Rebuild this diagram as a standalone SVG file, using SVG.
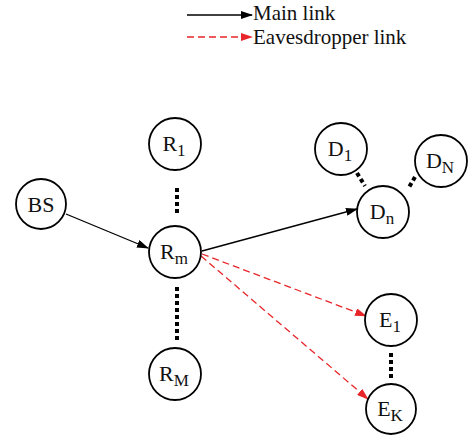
<svg xmlns="http://www.w3.org/2000/svg" width="468" height="438" viewBox="0 0 468 438">
<defs>
<marker id="ab" markerWidth="12" markerHeight="8" refX="11" refY="4" orient="auto" markerUnits="userSpaceOnUse"><path d="M0,0 L12,4 L0,8 Z" fill="#000"/></marker>
<marker id="ar" markerWidth="12" markerHeight="8" refX="11" refY="4" orient="auto" markerUnits="userSpaceOnUse"><path d="M0,0 L12,4 L0,8 Z" fill="#e8262a"/></marker>
<style>
.n{fill:#fff;stroke:#000;stroke-width:1.8}
.t{font-family:"Liberation Serif","Times New Roman",serif;font-size:22px;fill:#111;text-anchor:middle}
.s{font-size:17px}
.l{font-family:"Liberation Serif","Times New Roman",serif;font-size:21px;fill:#111}
.m{stroke:#000;stroke-width:1.3;fill:none}
.e{stroke:#e8262a;stroke-width:1.3;stroke-dasharray:7,4;fill:none}
.d{stroke:#000;stroke-width:4;stroke-dasharray:4,3;fill:none}
</style>
</defs>
<rect width="468" height="438" fill="#fff"/>
<g id="legend">
<line class="m" x1="187" y1="15" x2="252" y2="15" marker-end="url(#ab)"/>
<text class="l" x="253" y="20">Main link</text>
<line class="e" x1="187" y1="37" x2="252" y2="37" marker-end="url(#ar)"/>
<text class="l" x="253" y="44">Eavesdropper link</text>
</g>
<g id="connectors">
<line class="m" x1="66" y1="214" x2="148" y2="248" marker-end="url(#ab)"/>
<line class="m" x1="202" y1="251" x2="357" y2="209" marker-end="url(#ab)"/>
<line class="e" x1="202" y1="254" x2="366" y2="316" marker-end="url(#ar)"/>
<line class="e" x1="201" y1="256" x2="368" y2="399" marker-end="url(#ar)"/>
<line class="d" x1="177" y1="188" x2="177" y2="213"/>
<line class="d" x1="177" y1="287" x2="177" y2="342"/>
<line class="d" x1="391" y1="353" x2="391" y2="378"/>
<line class="d" x1="357" y1="173" x2="365" y2="186"/>
<line class="d" x1="415" y1="177" x2="408" y2="189"/>
</g>
<g id="BS"><circle class="n" cx="41" cy="204" r="25"/><text class="t" x="41" y="212">BS</text></g>
<g id="R1"><circle class="n" cx="175" cy="144" r="26"/><text class="t" x="174" y="151">R<tspan class="s" dy="5">1</tspan></text></g>
<g id="Rm"><circle class="n" cx="175" cy="252" r="26"/><text class="t" x="174" y="259">R<tspan class="s" dy="5">m</tspan></text></g>
<g id="RM"><circle class="n" cx="175" cy="374" r="26"/><text class="t" x="174" y="381">R<tspan class="s" dy="5">M</tspan></text></g>
<g id="D1"><circle class="n" cx="341" cy="149" r="26"/><text class="t" x="340" y="156">D<tspan class="s" dy="5">1</tspan></text></g>
<g id="DN"><circle class="n" cx="441" cy="161" r="26"/><text class="t" x="440" y="168">D<tspan class="s" dy="5">N</tspan></text></g>
<g id="Dn"><circle class="n" cx="383" cy="212" r="26"/><text class="t" x="382" y="219">D<tspan class="s" dy="5">n</tspan></text></g>
<g id="E1"><circle class="n" cx="391" cy="320" r="26"/><text class="t" x="390" y="327">E<tspan class="s" dy="5">1</tspan></text></g>
<g id="EK"><circle class="n" cx="391" cy="409" r="25"/><text class="t" x="390" y="416">E<tspan class="s" dy="5">K</tspan></text></g>
</svg>
